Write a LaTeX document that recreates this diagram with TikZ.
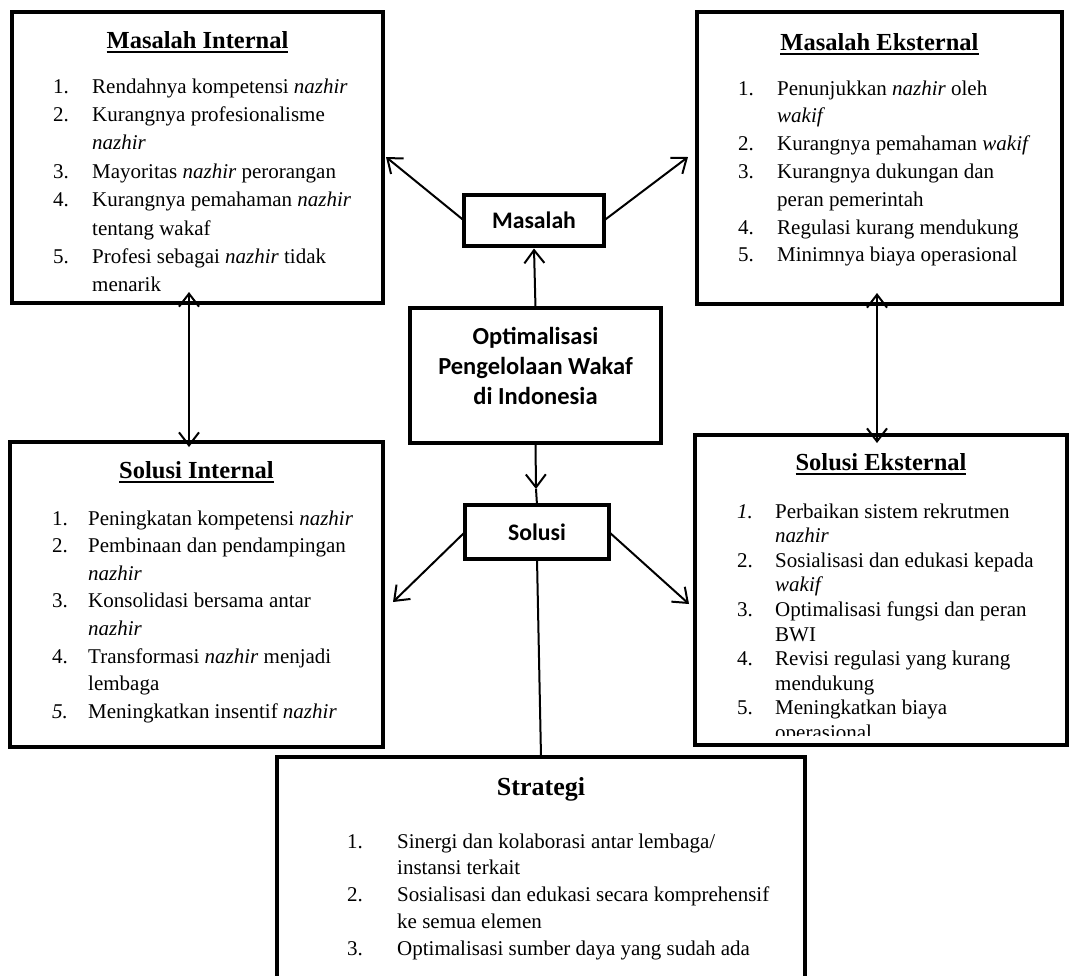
\documentclass[tikz,border=0pt]{standalone}
\usepackage{fontspec}
\setmainfont{Liberation Serif}
\newfontfamily\calibrifont{Carlito}
\usetikzlibrary{arrows.meta}
\newcommand{\undl}[1]{\setbox0\hbox{#1}\rlap{\rule[-4.5pt]{\wd0}{1.8pt}}\box0}
\newcommand{\boxlist}[6]{%
  \foreach \n/\t [count=\i from 0] in {#6}
    {\node[itm] (#1\i) at (#2,{#4+\i*#5}) {\makebox[#3pt][l]{\n}\t};}}
\tikzset{
  box/.style={draw, line width=4.8pt, outer sep=0pt, inner sep=0pt},
  itm/.style={font=\fontsize{21}{25}\selectfont, inner sep=0pt, anchor=base west},
  ttl/.style={font=\fontsize{24.5}{28}\selectfont\bfseries, inner sep=0pt, anchor=base},
  ctext/.style={font=\calibrifont\bfseries\fontsize{24.5}{30}\selectfont, align=center, inner sep=0pt},
  barb/.tip={Straight Barb[length=13pt,width=20pt]},
  arr/.style={line width=2pt, -barb},
  darr/.style={line width=2pt, barb-barb},
  conn/.style={line width=2pt}
}
\begin{document}
\begin{tikzpicture}[x=1pt,y=-1pt]
\useasboundingbox (0,0) rectangle (1070,975);

% boxes
\node[box, minimum width=371pt, minimum height=291pt] (mi) at (197.5,157.5) {};
\node[box, minimum width=365pt, minimum height=292pt] (me) at (879.5,158) {};
\node[box, minimum width=140pt, minimum height=51pt, font=\calibrifont\bfseries\fontsize{23.7}{28}\selectfont] (mas) at (534,220.5) {Masalah};
\node[box, minimum width=251pt, minimum height=135pt] (ctr) at (535.5,375.5) {};
\node[ctext] (ctrT) at (535.5,366) {Optimalisasi\\Pengelolaan Wakaf\\di Indonesia};
\node[box, minimum width=144pt, minimum height=54pt, font=\calibrifont\bfseries\fontsize{23.7}{28}\selectfont] (sol) at (537,532) {Solusi};
\node[box, minimum width=373pt, minimum height=305pt] (si) at (196.5,594.5) {};
\node[box, minimum width=372pt, minimum height=310pt] (se) at (881,590) {};
\node[box, minimum width=528pt, minimum height=243pt] (st) at (541,878.5) {};

% titles
\node[ttl] (miT) at (197.5,48) {\undl{Masalah Internal}};
\node[ttl] (meT) at (879.5,50) {\undl{Masalah Eksternal}};
\node[ttl] (siT) at (196.5,478) {\undl{Solusi Internal}};
\node[ttl] (seT) at (881,470) {\undl{Solusi Eksternal}};
\node[ttl, font=\fontsize{26}{30}\selectfont\bfseries] (stT) at (541,795) {Strategi};

% lists
\begin{scope}
\clip (mi.north west) rectangle ([yshift=9pt]mi.south east);
\boxlist{mil}{53}{39}{93}{28.4}{1./Rendahnya kompetensi \textit{nazhir}, 2./Kurangnya profesionalisme, /\textit{nazhir}, 3./Mayoritas \textit{nazhir} perorangan, 4./Kurangnya pemahaman \textit{nazhir}, /tentang wakaf, 5./Profesi sebagai \textit{nazhir} tidak, /menarik}
\end{scope}
\begin{scope}
\clip (me.north west) rectangle ([yshift=9pt]me.south east);
\boxlist{mel}{738}{39}{95}{27.8}{1./Penunjukkan \textit{nazhir} oleh, /\textit{wakif}, 2./Kurangnya pemahaman \textit{wakif}, 3./Kurangnya dukungan dan, /peran pemerintah, 4./Regulasi kurang mendukung, 5./Minimnya biaya operasional}
\end{scope}
\begin{scope}
\clip (si.north west) rectangle ([yshift=9pt]si.south east);
\boxlist{sil}{52}{36}{525}{27.6}{1./Peningkatan kompetensi \textit{nazhir}, 2./Pembinaan dan pendampingan, /\textit{nazhir}, 3./Konsolidasi bersama antar, /\textit{nazhir}, 4./Transformasi \textit{nazhir} menjadi, /lembaga, \textit{5.}/Meningkatkan insentif \textit{nazhir}}
\end{scope}
\begin{scope}
\clip (se.north west) rectangle ([yshift=10pt]se.south east);
\boxlist{sel}{737}{38}{518}{24.6}{\textit{1.}/Perbaikan sistem rekrutmen, /\textit{nazhir}, 2./Sosialisasi dan edukasi kepada, /\textit{wakif}, 3./Optimalisasi fungsi dan peran, /BWI, 4./Revisi regulasi yang kurang, /mendukung, 5./Meningkatkan biaya, /operasional}
\end{scope}
\boxlist{stl}{347}{50}{848}{26.8}{1./Sinergi dan kolaborasi antar lembaga{/}, /instansi terkait, 2./Sosialisasi dan edukasi secara komprehensif, /ke semua elemen, 3./Optimalisasi sumber daya yang sudah ada}

% connectors
\coordinate (tMI) at (386,157);
\coordinate (tME) at (688,157);
\coordinate (tSol) at (536,489);
\coordinate (tSI) at (393,602);
\coordinate (tSE) at (689,604);
\coordinate (dA1) at (189,292);
\coordinate (dA2) at (189,447);
\coordinate (dB1) at (877,293);
\coordinate (dB2) at (877,443);
\draw[arr] (ctr.north) -- ([yshift=-2.5pt]mas.south);
\draw[arr] (mas.west) -- (tMI);
\draw[arr] (mas.east) -- (tME);
\draw[arr] (ctr.south) -- (tSol);
\draw[conn] (tSol) -- (sol.north);
\draw[arr] (sol.west) -- (tSI);
\draw[arr] (sol.east) -- (tSE);
\draw[conn] (sol.south) -- (st.north);
\draw[darr] (dA1) -- (dA2);
\draw[darr] (dB1) -- (dB2);
\end{tikzpicture}
\end{document}
